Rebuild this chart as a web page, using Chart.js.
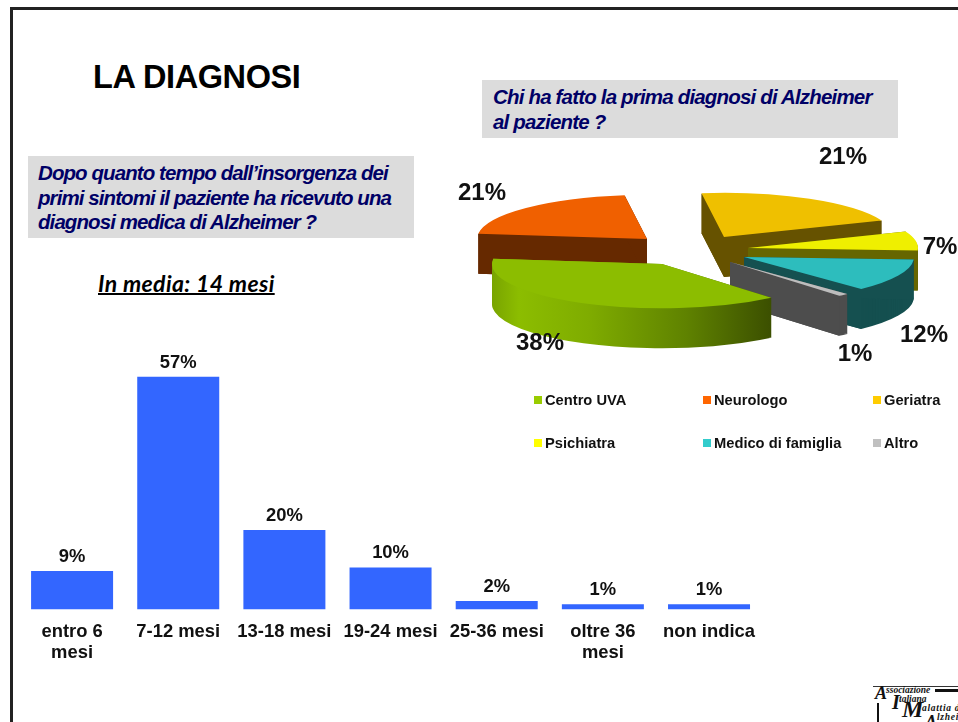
<!DOCTYPE html>
<html lang="it"><head><meta charset="utf-8">
<script src="https://cdn.jsdelivr.net/npm/chart.js@4"></script>
<style>
html,body{margin:0;padding:0;background:#fff;width:958px;height:722px;overflow:hidden;font-family:"Liberation Sans",Arial,sans-serif}
.abs{position:absolute;white-space:nowrap}
#frame{left:10px;top:7px;width:960px;height:730px;border-top:3px solid #222;border-left:3px solid #222}
#title{left:93px;top:58px;font:bold 32.5px/38px "Liberation Sans";color:#000;letter-spacing:-.4px}
.box{background:#dcdcdc}
.q{font:italic bold 20.5px/24.5px "Liberation Sans";color:#000066;letter-spacing:-.92px}
#media{left:98px;top:268px;font:italic bold 23px/30px Lato;color:#000;letter-spacing:.37px;text-decoration:underline;text-decoration-thickness:2px}
canvas{position:absolute}
#barWrap{position:absolute;left:19px;top:340px;width:748px;height:340px}
#pieWrap{position:absolute;left:440px;top:140px;width:518px;height:340px}
.lg{font:bold 14.7px/16px "Liberation Sans";color:#111}
.sw{width:8px;height:8px}
.logo{font-family:"Liberation Serif";font-style:italic;font-weight:bold;color:#111}
</style></head><body>
<div id="frame" class="abs"></div>
<div id="title" class="abs">LA DIAGNOSI</div>
<div class="abs box" style="left:28px;top:156px;width:386px;height:82px"></div>
<div class="abs q" style="left:38px;top:161px">Dopo quanto tempo dall’insorgenza dei<br>primi sintomi il paziente ha ricevuto una<br>diagnosi medica di Alzheimer ?</div>
<div class="abs box" style="left:482px;top:80px;width:416px;height:58px"></div>
<div class="abs q" style="left:493px;top:85px;letter-spacing:-.82px">Chi ha fatto la prima diagnosi di Alzheimer<br>al paziente ?</div>
<div id="media" class="abs">In media: 14 mesi</div>
<div id="barWrap"><canvas id="bars"></canvas></div>
<div id="pieWrap"><canvas id="pie"></canvas></div>
<div id="legend"></div>
<div class="abs" style="left:873px;top:686px;width:85px;height:1px;background:#333"></div>
<div class="abs" style="left:935px;top:689px;width:23px;height:3px;background:#111"></div>
<div class="abs" style="left:877px;top:703px;width:2px;height:19px;background:#111"></div>
<div class="abs logo" style="left:875px;top:683px;font-size:18px;line-height:20px">A</div>
<div class="abs logo" style="left:886px;top:685px;font-size:9.5px;line-height:10px">ssociazione</div>
<div class="abs logo" style="left:892px;top:691px;font-size:20px;line-height:22px">I</div>
<div class="abs logo" style="left:899px;top:694px;font-size:9.5px;line-height:10px">taliana</div>
<div class="abs logo" style="left:902px;top:696px;font-size:24px;line-height:26px">M</div>
<div class="abs logo" style="left:922px;top:703px;font-size:9.5px;line-height:11px;letter-spacing:.7px">alattia di</div>
<div class="abs logo" style="left:925px;top:712px;font-size:18px;line-height:20px">A</div>
<div class="abs logo" style="left:937px;top:712px;font-size:9.5px;line-height:11px;letter-spacing:.7px">lzheimer</div>
<script>
const barCategories = [["entro 6","mesi"],"7-12 mesi","13-18 mesi","19-24 mesi","25-36 mesi",["oltre 36","mesi"],"non indica"];
const barValues = [9.4,57,19.5,10.3,2.1,1.3,1.3];
const pieLabels = ["Centro UVA","Neurologo","Geriatra","Psichiatra","Medico di famiglia","Altro"];
const pieValues = [38,21,21,7,12,1];

const topColors = ["#8cbd00","#f06000","#efc000","#efef00","#2dbdbd","#bdbdbd"];
const wallColors = [null,"#662900","#665200","#666600","#155050","#4d4d4d"];
const legendColors = ["#99cc00","#ff6600","#ffcc00","#ffff00","#33cccc","#c0c0c0"];
// layout of the exploded 3D look, in canvas pixels (not data)
const apex = [[222,124],[207,99],[284,97],[308,108],[304,117],[290,122]];
const labelPos = [[100,203],[42,53],[403,17],[500,107],[484,195],[415,214]];
const legendPos = [[534,400],[703,400],[873,400],[534,443],[703,443],[873,443]];
const squash = 0.26, depth = 40;
const paintOrder = [1,2,3,4,5,0];

Chart.defaults.font.family = '"Liberation Sans"';

const valueLabels = {
  id:'valueLabels',
  afterDatasetsDraw(chart){
    const ctx = chart.ctx, els = chart.getDatasetMeta(0).data;
    ctx.save();
    ctx.font = 'bold 18.4px "Liberation Sans"';
    ctx.fillStyle = '#111'; ctx.textAlign='center'; ctx.textBaseline='alphabetic';
    els.forEach((el,i)=>ctx.fillText(Math.round(barValues[i])+'%', el.x, el.y-9));
    ctx.restore();
  }
};
new Chart(document.getElementById('bars'),{
  type:'bar',
  data:{labels:barCategories,datasets:[{data:barValues,backgroundColor:'#3366ff',borderWidth:0,barPercentage:0.7725,categoryPercentage:1}]},
  options:{
    responsive:true,maintainAspectRatio:false,animation:false,
    layout:{padding:0},
    plugins:{legend:{display:false},tooltip:{enabled:false}},
    scales:{
      y:{display:false,min:0,max:66},
      x:{grid:{display:false,drawTicks:false},border:{display:false},
         ticks:{autoSkip:false,maxRotation:0,minRotation:0,padding:12,color:'#111',font:{size:18.4,weight:'bold',lineHeight:1.14}},
         afterFit(s){s.height=70.5;}}
    }
  },
  plugins:[valueLabels]
});

const pie3d = {
  id:'pie3d',
  beforeDatasetsDraw(chart){
    const ctx = chart.ctx, els = chart.getDatasetMeta(0).data;
    paintOrder.forEach(i=>{
      const el = els[i], p = el.getProps(['x','y','startAngle','endAngle','outerRadius'],true);
      const [ax,ay] = apex[i], r = p.outerRadius;
      // gradient coordinates follow the transform, so they are relative to the apex
      let wall = wallColors[i];
      if(i===0){
        const g = ctx.createLinearGradient(-171,0,108,0);
        g.addColorStop(0,'#78a300'); g.addColorStop(.1,'#8cbd00'); g.addColorStop(.35,'#7fac00');
        g.addColorStop(.7,'#5f8200'); g.addColorStop(1,'#3c5000');
        wall = g;
      }
      ctx.fillStyle = wall;
      for(let k=depth;k>=1;k--){
        ctx.save();
        ctx.translate(ax,ay+k); ctx.scale(1,squash);
        ctx.beginPath(); ctx.moveTo(0,0); ctx.arc(0,0,r,p.startAngle,p.endAngle); ctx.closePath(); ctx.fill();
        ctx.restore();
      }
      // solid cut faces, so thin wedges do not fade out near the apex
      ctx.save();
      ctx.translate(ax,ay);
      [p.startAngle,p.endAngle].forEach(a=>{
        const ex = Math.cos(a)*r, ey = Math.sin(a)*r*squash;
        ctx.beginPath(); ctx.moveTo(0,0); ctx.lineTo(ex,ey); ctx.lineTo(ex,ey+depth); ctx.lineTo(0,depth); ctx.closePath(); ctx.fill();
      });
      ctx.restore();
      ctx.save();
      ctx.translate(ax,ay); ctx.scale(1,squash); ctx.translate(-p.x,-p.y);
      el.draw(ctx);
      ctx.restore();
    });
    ctx.save();
    ctx.font='bold 24px "Liberation Sans"'; ctx.fillStyle='#111'; ctx.textAlign='center'; ctx.textBaseline='middle';
    pieValues.forEach((v,i)=>ctx.fillText(v+'%',labelPos[i][0],labelPos[i][1]));
    ctx.restore();
    return false;
  }
};
new Chart(document.getElementById('pie'),{
  type:'pie',
  data:{labels:pieLabels,datasets:[{data:pieValues,backgroundColor:topColors,borderWidth:0}]},
  options:{responsive:true,maintainAspectRatio:false,animation:false,rotation:140,layout:{padding:0},
    plugins:{legend:{display:false},tooltip:{enabled:false}}},
  plugins:[pie3d]
});

const lg = document.getElementById('legend');
pieLabels.forEach((t,i)=>{
  const [x,y] = legendPos[i];
  const s = document.createElement('div'); s.className='abs sw'; s.style.cssText=`left:${x}px;top:${y-4}px;background:${legendColors[i]}`;
  const l = document.createElement('div'); l.className='abs lg'; l.textContent=t; l.style.cssText=`left:${x+11}px;top:${y-8}px`;
  lg.append(s,l);
});
</script>
</body></html>
